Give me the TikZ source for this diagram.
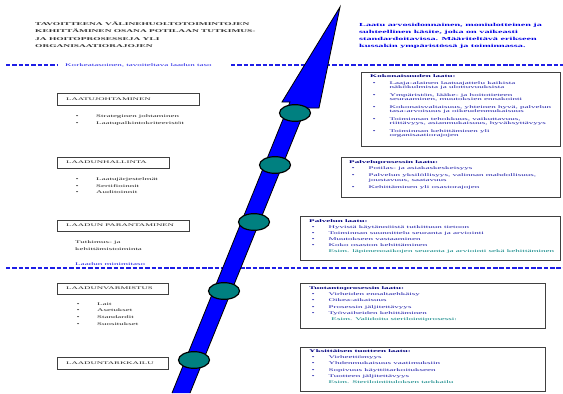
\documentclass[tikz,border=0pt]{standalone}
\usepackage{fontspec}
\setmainfont{Liberation Serif}
\newfontfamily\sqfont[FakeStretch=2.2]{Liberation Serif}
\usetikzlibrary{shapes.geometric,shadows}
\definecolor{tealball}{RGB}{0,128,128}
\definecolor{navytxt}{RGB}{0,0,128}
\definecolor{itemblue}{RGB}{30,30,170}
\definecolor{esimteal}{RGB}{0,128,128}
\definecolor{lvlblue}{RGB}{30,30,230}
\newcommand{\rb}{\hspace*{2pt}\makebox[14.5pt][l]{\textbullet}}
\newcommand{\rc}{\hspace*{16.5pt}}
\newcommand{\lb}{\makebox[17.5pt][l]{\textbullet}}

\begin{document}
\begin{tikzpicture}[x=0.03cm,y=-0.03cm,
    ttl/.style={anchor=north west, inner sep=0, align=left, text=black!80, font=\sqfont\bfseries\fontsize{3.65}{6.2}\selectfont},
    note/.style={anchor=north west, inner sep=0, align=left, text=blue!90!black, font=\sqfont\bfseries\fontsize{3.95}{6}\selectfont},
    lvltxt/.style={anchor=west, inner sep=0, text=lvlblue, font=\sqfont\fontsize{3.5}{4}\selectfont},
    lvl/.style={draw=lvlblue, line width=1pt, dash pattern=on 3.8pt off 1.6pt},
    lab/.style={anchor=west, inner sep=0, text=black!85, font=\sqfont\fontsize{3.4}{4}\selectfont},
    lst/.style={anchor=north west, inner sep=0, align=left, text=black!85, font=\sqfont\fontsize{3.45}{5.6}\selectfont},
    qbox/.style={draw=black!75, fill=white, line width=0.6pt, drop shadow={shadow xshift=1.1pt, shadow yshift=-1.1pt, fill=black!40, opacity=1}},
    rtxt/.style={anchor=north west, inner sep=0, align=left, text=itemblue, font=\sqfont\fontsize{3.5}{3.75}\selectfont},
    bead/.style={ellipse, draw=black, line width=1pt, fill=tealball, minimum width=0.93cm, minimum height=0.5cm, inner sep=0},
    shaft/.style={fill=blue, draw=black, line width=0.7pt, line join=miter}]
    \useasboundingbox (0,0) rectangle (563,393);

    \node[ttl] (goal) at (35,21.7) {TAVOITTEENA VÄLINEHUOLTOTOIMINTOJEN\\KEHITTÄMINEN OSANA POTILAAN TUTKIMUS-\\JA HOITOPROSESSEJA YLI\\ORGANISAATIORAJOJEN};
    \node[note] (laatu) at (359,23) {Laatu arvosidonnainen, moniulotteinen ja\\suhteellinen käsite, joka on vaikeasti\\standardoitavissa. Määriteltävä erikseen\\kussakin ympäristössä ja toiminnassa.};

    \draw[lvl] (6,65) -- (57,65);
    \node[lvltxt] (korkea) at (65,65) {Korkeatasoinen, tavoiteltava laadun taso};
    \draw[lvl] (231,65) -- (563,65);
    \draw[lvl] (6,268) -- (563,268);
    \node[lvltxt] (minimi) at (75,264.5) {Laadun minimitaso};

    \fill[blue] (172,393) -- (290,102) -- (282,102) -- (340,7) -- (319,108) -- (305.7,108) -- (190,393) -- cycle;
    \draw[shaft, fill=none] (172,393) -- (290,102) -- (282,102) -- (340,7) -- (319,108) -- (305.7,108) -- (190,393);
    \node[bead] (b1) at (295,113) {};
    \node[bead] (b2) at (275,165) {};
    \node[bead] (b3) at (254,222) {};
    \node[bead] (b4) at (224,291) {};
    \node[bead] (b5) at (194,360) {};

    \draw[qbox] (57,93) rectangle (199,105);
    \node[lab] (ljoh) at (66,99) {LAATUJOHTAMINEN};
    \node[lst] (ljohl) at (75.5,114.5) {\lb Strateginen johtaminen\\\lb Laatupalkintokriteeristöt};
    \draw[qbox] (57,157) rectangle (169,168);
    \node[lab] (lhal) at (66,162.5) {LAADUNHALLINTA};
    \node[lst] (lhall) at (75.5,177.5) {\lb Laatujärjestelmät\\\lb Sertifioinnit\\\lb Auditoinnit};
    \draw[qbox] (57,220) rectangle (189,231);
    \node[lab] (lpar) at (66,225.5) {LAADUN PARANTAMINEN};
    \node[lst] (lparl) at (75,240.5) {Tutkimus- ja\\kehittämistoiminta};
    \draw[qbox] (57,283) rectangle (168,294);
    \node[lab] (lvar) at (66,288.5) {LAADUNVARMISTUS};
    \node[lst] (lvarl) at (76.5,302.5) {\lb Lait\\\lb Asetukset\\\lb Standardit\\\lb Suositukset};
    \draw[qbox] (57,357) rectangle (168,369);
    \node[lab] (ltar) at (66,363) {LAADUNTARKKAILU};

    \draw[qbox] (361,72) rectangle (560,146);
    \node[rtxt] (kok) at (370,74.2) {\textcolor{navytxt}{\bfseries Kokonaisuuden laatu:}\\[2.2pt]
        \rb Laaja-alainen laatuajattelu kaikista\\
        \rc näkökulmista ja ulottuvuuksista\\[2.7pt]
        \rb Ympäristön, lääke- ja hoitotieteen\\
        \rc seuraaminen, muutoksien ennakointi\\[2.7pt]
        \rb Kokonaisvaltaisuus, yhteinen hyvä, palvelun\\
        \rc tasa-arvoisuus ja oikeudenmukaisuus\\[2.7pt]
        \rb Toiminnan tehokkuus, vaikuttavuus,\\
        \rc riittävyys, asianmukaisuus, hyväksyttävyys\\[2.7pt]
        \rb Toiminnan kehittäminen yli\\
        \rc organisaatiorajojen};
    \draw[qbox] (341,157) rectangle (560,197);
    \node[rtxt] (palpro) at (349,160.2) {\textcolor{navytxt}{\bfseries Palveluprosessin laatu:}\\[1.9pt]
        \rb Potilas- ja asiakaskeskeisyys\\[2pt]
        \rb Palvelun yksilöllisyys, valinnan mahdollisuus,\\
        \rc joustavuus, saatavuus\\[2.5pt]
        \rb Kehittäminen yli osastorajojen};
    \draw[qbox] (300,216) rectangle (560,260);
    \node[rtxt] (pal) at (309,219.2) {\textcolor{navytxt}{\bfseries Palvelun laatu:}\\[1.4pt]
        \rb Hyvistä käytännöistä tutkittuun tietoon\\[1.4pt]
        \rb Toiminnan suunnittelu seuranta ja arviointi\\[1.4pt]
        \rb Muutokseen vastaaminen\\[1.4pt]
        \rb Koko osaston kehittäminen\\[1.4pt]
        \rc\textcolor{esimteal}{Esim. läpimenoaikojen seuranta ja arviointi sekä kehittäminen}};
    \draw[qbox] (300,283) rectangle (545,328);
    \node[rtxt] (tuo) at (309,286.2) {\textcolor{navytxt}{\bfseries Tuotantoprosessin laatu:}\\[1.6pt]
        \rb Virheiden ennaltaehkäisy\\[1.6pt]
        \rb Oikea-aikaisuus\\[1.6pt]
        \rb Prosessin jäljitettävyys\\[1.6pt]
        \rb Työvaiheiden kehittäminen\\[1.6pt]
        \hspace*{19pt}\textcolor{esimteal}{Esim. Validoitu sterilointiprosessi:}};
    \draw[qbox] (300,347) rectangle (545,391);
    \node[rtxt] (yks) at (309,349.2) {\textcolor{navytxt}{\bfseries Yksittäisen tuotteen laatu:}\\[1.6pt]
        \rb Virheettömyys\\[1.6pt]
        \rb Yhdenmukaisuus vaatimuksiin\\[1.6pt]
        \rb Sopivuus käyttötarkoitukseen\\[1.6pt]
        \rb Tuotteen jäljitettävyys\\[1.6pt]
        \rc\textcolor{esimteal}{Esim. Sterilointituloksen tarkkailu}};
\end{tikzpicture}
\end{document}
